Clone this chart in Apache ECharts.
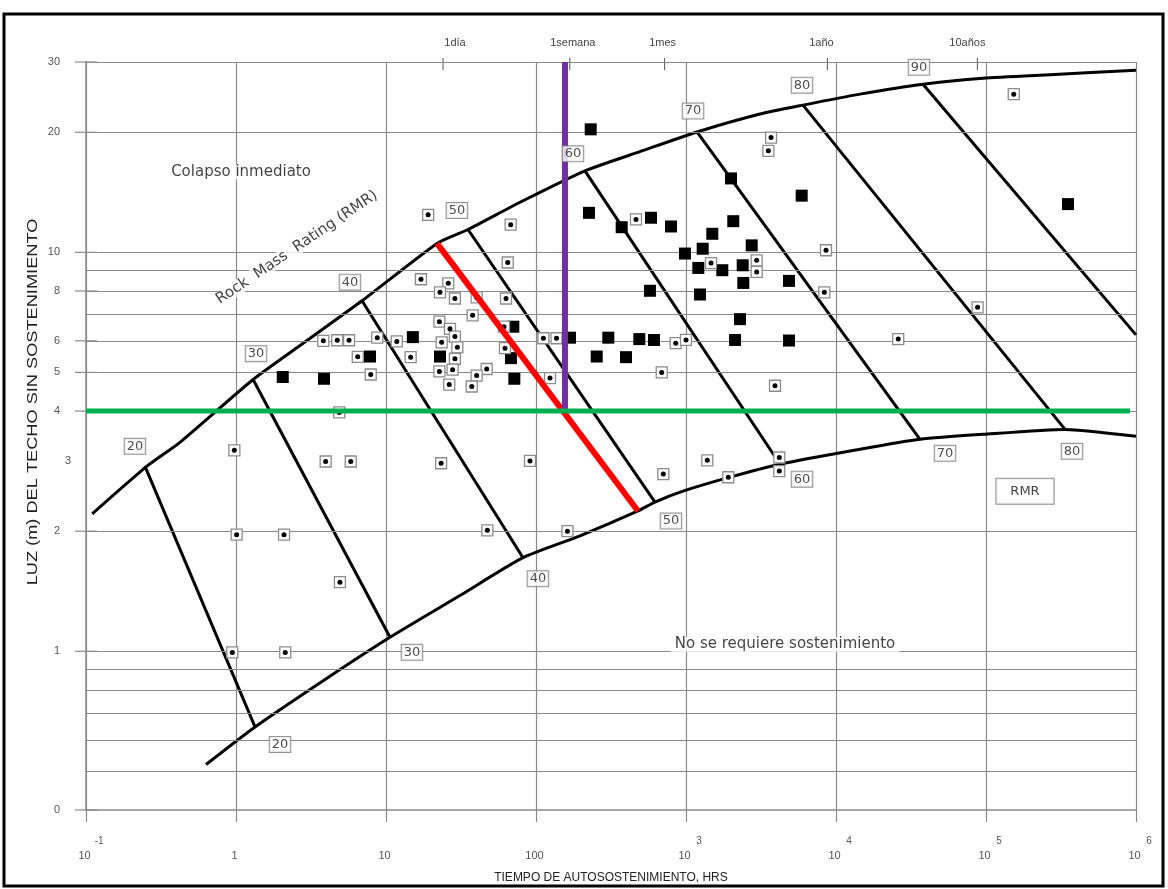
<!DOCTYPE html>
<html>
<head>
<meta charset="utf-8">
<script src="https://cdn.jsdelivr.net/npm/echarts@6/dist/echarts.min.js"></script>
<style>
  html, body { margin: 0; padding: 0; background: #fff; }
  #chart { width: 1168px; height: 889px; }
</style>
</head>
<body>
<div id="chart"></div>
<script>
// Stand-up time (hours) against unsupported roof span (m), both logarithmic,
// with the Rock Mass Rating (RMR) bands and case records.

const xTicks = [0.1, 1, 10, 100, 1000, 1e4, 1e5, 1e6];
const yGridValues = [30, 20, 10, 9, 8, 7, 6, 5, 4, 2, 1, 0.9, 0.8, 0.7, 0.6, 0.5];
const yTickLabels = [[30, '30'], [20, '20'], [10, '10'], [8, '8'], [6, '6'], [5, '5'], [4, '4'], [3, '3'], [2, '2'], [1, '1'], [0.4, '0']];
const timeMarks = [[24, '1día'], [168, '1semana'], [720, '1mes'], [8760, '1año'], [87600, '10años']];
const yTitle = 'LUZ (m) DEL TECHO SIN SOSTENIMIENTO';
const xTitle = 'TIEMPO DE AUTOSOSTENIMIENTO, HRS';

// envelope curves of the RMR field
const upperEnvelope = [
  [0.11, 2.21], [0.255, 2.91], [0.423, 3.34], [1.30, 4.80], [2.67, 5.84], [6.92, 7.56],
  [21.9, 10.53], [35.2, 11.41], [78.2, 13.35], [212, 16.01], [493, 17.88], [1184, 20.03],
  [3114, 22.22], [6026, 23.39], [14450, 24.92], [38020, 26.39], [95500, 27.32],
  [267000, 27.88], [1000000, 28.6]
];
const lowerEnvelope = [
  [0.631, 0.52], [1.339, 0.646], [4.04, 0.856], [10.63, 1.084], [31.1, 1.379], [81.9, 1.716],
  [196.5, 1.946], [478.6, 2.247], [621, 2.366], [955, 2.52], [1965, 2.732], [4236, 2.943],
  [14450, 3.208], [36310, 3.398], [95500, 3.497], [336500, 3.598], [1000000, 3.457]
];

// RMR iso-lines: [upper end, lower end]
const rmrValues = [20, 30, 40, 50, 60, 70, 80, 90];
const rmrSegments = [
  [[0.247, 2.91], [1.339, 0.646]],
  [[1.30, 4.80], [10.63, 1.084]],
  [[6.92, 7.56], [81.9, 1.716]],
  [[35.2, 11.41], [621, 2.366]],
  [[212, 16.01], [4236, 2.943]],
  [[1184, 20.03], [36310, 3.398]],
  [[6026, 23.39], [336500, 3.598]],
  [[38020, 26.39], [1000000, 6.21]]
];
const rmrTopLabels = [[0.212, 3.264, '20'], [1.36, 5.57, '30'], [5.75, 8.42, '40'], [29.7, 12.73, '50'],
  [176.4, 17.66, '60'], [1114, 22.6, '70'], [5933, 26.24, '80'], [35730, 29.1, '90']];
const rmrBottomLabels = [[1.965, 0.584, '20'], [14.9, 0.994, '30'], [103, 1.52, '40'], [794, 2.12, '50'],
  [5933, 2.70, '60'], [53300, 3.135, '70'], [374500, 3.171, '80']];

// case records
const solidCases = [
  [2.05, 4.87], [3.86, 4.82], [7.82, 5.48], [15.1, 6.13], [22.9, 5.48], [70.6, 6.51], [68.1, 5.43],
  [71.7, 4.82], [168.6, 6.11], [231.6, 20.34], [225.6, 12.56], [372.6, 11.56], [584.3, 12.21],
  [794, 11.61], [1995, 15.32], [2066, 11.97], [1497, 11.13], [1292, 10.21], [984, 9.93],
  [1208, 9.14], [1746, 9.02], [2388, 9.28], [2742, 10.41], [2410, 8.38], [575, 8.01],
  [1240, 7.84], [2291, 6.80], [2123, 6.03], [303.4, 6.11], [488.3, 6.06], [612.1, 6.03],
  [254, 5.48], [398, 5.46], [5906, 13.87], [4860, 8.48], [4860, 6.01], [352000, 13.21]
];
const boxedCases = [
  [3.82, 6.00], [4.73, 6.02], [5.67, 6.02], [8.75, 6.11], [6.48, 5.47], [7.91, 4.94], [4.88, 3.97],
  [0.975, 3.19], [3.96, 2.99], [5.82, 2.99], [1.01, 1.96], [2.09, 1.96], [4.93, 1.49],
  [0.945, 0.993], [2.13, 0.993], [19.1, 12.42], [67.8, 11.73], [64.8, 9.43], [17.1, 8.56],
  [26.0, 8.36], [22.9, 7.94], [28.8, 7.66], [40.2, 7.71], [63.1, 7.66], [37.8, 6.95],
  [22.7, 6.70], [26.7, 6.43], [28.8, 6.15], [23.5, 5.95], [29.9, 5.78], [28.8, 5.41],
  [14.6, 5.46], [11.8, 5.98], [62.1, 5.75], [61.2, 6.51], [22.7, 5.03], [27.8, 5.08],
  [26.4, 4.66], [46.9, 5.10], [40.2, 4.91], [37.3, 4.61], [124, 4.84], [112, 6.09],
  [137, 6.09], [23.3, 2.96], [91.2, 3.00], [47.4, 2.01], [162, 2.00], [464, 12.09],
  [1468, 9.40], [854, 5.92], [1000, 6.03], [689, 5.00], [2959, 9.55], [2959, 8.93],
  [3690, 19.39], [3540, 17.97], [8577, 10.12], [8356, 7.94], [26000, 6.06], [3920, 4.63],
  [153100, 24.92], [87900, 7.28], [706, 2.78], [1387, 3.01], [1914, 2.73], [4188, 3.06],
  [4188, 2.83]
];

// design lines
const redLine = [[21.9, 10.53], [478.6, 2.247]];
const weekLine = [[156, 30], [156, 4]];
const spanLine = [[0.1, 4], [912000, 4]];

// free annotations: [x, y, text]
const regionNotes = [[1.08, 15.92, 'Colapso inmediato'], [4571, 1.04, 'No se requiere sostenimiento']];
const curveNote = [[2.55, 10.29, 'Rock  Mass  Rating (RMR)']];
const legendNote = [[182000, 2.52, 'RMR']];

const FONT = '"Liberation Sans", Arial, sans-serif';
const WIDE = '"DejaVu Sans", Verdana, sans-serif';
const GRID = '#8a8a8a';

function xLabel(v) {
  const e = Math.round(Math.log10(v));
  if (e >= 0 && e <= 2) return '{g|}{b|' + Math.round(v) + '}{s| }';
  return '{g|}{b|10}{s|' + e + '}';
}

const boxLabel = {
  show: true, position: 'inside', formatter: p => p.data[2],
  fontFamily: WIDE, fontSize: 13, color: '#222',
  backgroundColor: '#fff', borderColor: '#777', borderWidth: 1, padding: [2, 2, 0, 2]
};

const series = [];

// horizontal grid lines
series.push({
  type: 'line', data: [], silent: true, z: 1,
  markLine: {
    silent: true, symbol: 'none', label: { show: false }, animation: false,
    lineStyle: { color: GRID, width: 1.2, type: 'solid' },
    data: yGridValues.map(v => ({ yAxis: v }))
  }
});

// y-axis ticks and labels
series.push({
  type: 'scatter', z: 3, silent: true, clip: false,
  data: yTickLabels.map(d => ({
    value: [0.1, d[0]], name: d[1],
    symbolSize: d[1] === '3' ? 0 : [22, 1.2]
  })),
  symbol: 'rect',
  itemStyle: { color: GRID, opacity: 1 },
  label: { show: true, position: 'left', distance: 15, formatter: p => p.name,
    fontFamily: FONT, fontSize: 11, color: '#555' }
});

// time marks on top
const timeLabelShift = [12, 3, -2, -6, -10];
series.push({
  type: 'scatter', z: 3, silent: true, clip: false,
  data: timeMarks.map((d, i) => ({
    value: [d[0], 30], name: d[1],
    label: { offset: [timeLabelShift[i], 0] }
  })),
  symbol: 'rect', symbolSize: [1, 12], symbolOffset: [0, 2],
  itemStyle: { color: '#555', opacity: 1 },
  label: { show: true, position: 'top', distance: 10, formatter: p => p.name,
    fontFamily: FONT, fontSize: 11, color: '#444' }
});

// envelopes and RMR iso-lines
const blackLine = { color: '#000', width: 3 };
series.push({ type: 'line', z: 4, silent: true, data: upperEnvelope, symbol: 'none', smooth: 0.2, lineStyle: blackLine });
series.push({ type: 'line', z: 4, silent: true, data: lowerEnvelope, symbol: 'none', smooth: 0.2, lineStyle: blackLine });
rmrSegments.forEach((seg, i) => {
  series.push({ type: 'line', z: 4, silent: true, name: 'RMR ' + rmrValues[i], data: seg, symbol: 'none', lineStyle: blackLine });
});

// case records
series.push({
  type: 'scatter', z: 5, silent: true, data: solidCases,
  symbol: 'rect', symbolSize: 12, itemStyle: { color: '#000', opacity: 1 }
});
series.push({
  type: 'scatter', z: 5, silent: true, data: boxedCases,
  symbol: 'rect', symbolSize: 11,
  itemStyle: { color: '#fff', borderColor: '#8c8c8c', borderWidth: 1.3, opacity: 1 }
});
series.push({
  type: 'scatter', z: 6, silent: true, data: boxedCases,
  symbol: 'circle', symbolSize: 5, itemStyle: { color: '#000', opacity: 1 }
});

// design lines
series.push({ type: 'line', z: 7, silent: true, data: redLine, symbol: 'none', lineStyle: { color: '#ff0000', width: 6 } });
series.push({ type: 'line', z: 7, silent: true, data: weekLine, symbol: 'none', lineStyle: { color: '#7030a0', width: 6 } });
series.push({ type: 'line', z: 7, silent: true, data: spanLine, symbol: 'none', lineStyle: { color: '#00b050', width: 5 } });

// RMR value boxes
series.push({ type: 'scatter', z: 8, silent: true, data: rmrTopLabels, symbolSize: 0, label: boxLabel });
series.push({ type: 'scatter', z: 8, silent: true, data: rmrBottomLabels, symbolSize: 0, label: boxLabel });

// annotations
series.push({
  type: 'scatter', z: 8, silent: true, data: regionNotes, symbolSize: 0,
  label: { show: true, position: 'inside', formatter: p => p.data[2],
    fontFamily: WIDE, fontSize: 15, color: '#111', backgroundColor: '#fff', padding: [0, 4] }
});
series.push({
  type: 'scatter', z: 8, silent: true, data: curveNote, symbolSize: 0,
  label: { show: true, position: 'inside', rotate: 34, formatter: p => p.data[2],
    fontFamily: WIDE, fontSize: 15, color: '#111', backgroundColor: '#fff', padding: [0, 3] }
});
series.push({
  type: 'scatter', z: 8, silent: true, data: legendNote, symbolSize: 0,
  label: { show: true, position: 'inside', formatter: p => p.data[2],
    fontFamily: WIDE, fontSize: 13, color: '#111', backgroundColor: '#fff',
    borderColor: '#777', borderWidth: 1, padding: [6, 14] }
});

const option = {
  animation: false,
  backgroundColor: '#fff',
  grid: { left: 86, right: 32, top: 62, bottom: 76, containLabel: false },
  xAxis: {
    type: 'log', logBase: 10, min: xTicks[0], max: xTicks[xTicks.length - 1],
    name: xTitle, nameLocation: 'middle', nameGap: 62,
    nameTextStyle: { fontFamily: FONT, fontSize: 12, color: '#222' },
    axisLine: { show: true, lineStyle: { color: GRID, width: 1.5 } },
    axisTick: { show: true, inside: false, length: 12, lineStyle: { color: GRID, width: 1.2 } },
    splitLine: { show: true, lineStyle: { color: GRID, width: 1.2 } },
    minorTick: { show: false },
    axisLabel: {
      margin: 26, formatter: xLabel, fontFamily: FONT, color: '#555',
      rich: {
        g: { width: 11 },
        b: { fontSize: 11, fontFamily: FONT, color: '#555' },
        s: { width: 11, align: 'left', fontSize: 10, fontFamily: FONT, color: '#555', padding: [0, 0, 30, 3] }
      }
    }
  },
  yAxis: {
    type: 'log', logBase: 10, min: 0.4, max: 30,
    axisLine: { show: true, lineStyle: { color: GRID, width: 1.5 } },
    axisTick: { show: false },
    axisLabel: { show: false },
    splitLine: { show: false },
    minorTick: { show: false }
  },
  graphic: [
    {
      // vertical axis title, set in a wide face along the axis
      type: 'text', silent: true, z: 50,
      x: 33, y: 402, rotation: Math.PI / 2, scaleX: 1.3,
      style: { text: yTitle, font: '14px "Liberation Sans", Arial, sans-serif',
        fill: '#222', textAlign: 'center', textVerticalAlign: 'middle' }
    },
    {
      type: 'rect', silent: true, z: 100,
      shape: { x: 4, y: 14, width: 1159, height: 872 },
      style: { fill: 'none', stroke: '#000', lineWidth: 3 }
    }
  ],
  series: series
};

const chart = echarts.init(document.getElementById('chart'), null, { renderer: 'canvas' });
chart.setOption(option);
</script>
</body>
</html>
